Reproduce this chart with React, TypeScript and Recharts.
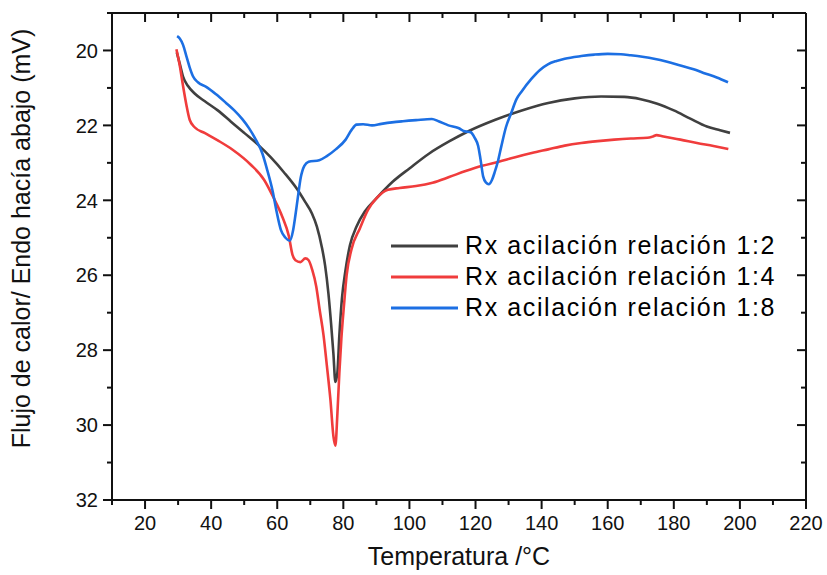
import { LineChart, Line, XAxis, YAxis, Legend } from 'recharts';

const FONT = '"Liberation Sans", Arial, sans-serif';
const INK = '#111';

const X_TICKS = [10, 20, 30, 40, 50, 60, 70, 80, 90, 100, 110, 120, 130, 140, 150, 160, 170, 180, 190, 200, 210, 220];
const Y_TICKS = [19, 20, 21, 22, 23, 24, 25, 26, 27, 28, 29, 30, 31, 32];

const SERIES_NAMES = ['Rx acilación relación 1:2', 'Rx acilación relación 1:4', 'Rx acilación relación 1:8'];
const SERIES_COLORS = ['#404040', '#f03c3c', '#1c6fe3'];

// [temperatura, flujo]
const RX_12 = [
  [29.6, 20.05], [30.5, 20.35], [31.5, 20.7], [33, 20.95], [35, 21.15], [38, 21.35], [42, 21.6], [46, 21.9],
  [50, 22.2], [54, 22.5], [58, 22.85], [62, 23.25], [66, 23.7], [68.5, 24.05], [70.5, 24.35], [72, 24.7],
  [73.5, 25.25], [74.5, 25.75], [75.5, 26.5], [76.3, 27.3], [77, 28.1], [77.6, 28.85], [78.2, 28.6], [78.8, 27.6],
  [79.6, 26.6], [80.6, 25.9], [82, 25.2], [84, 24.7], [86.5, 24.3], [90, 23.95], [95, 23.5], [100, 23.15],
  [106, 22.75], [112, 22.43], [118, 22.15], [126, 21.85], [134, 21.6], [142, 21.4], [150, 21.28], [158, 21.23],
  [165, 21.24], [170, 21.3], [175, 21.42], [180, 21.6], [185, 21.82], [190, 22.03], [194, 22.13], [197, 22.2],
];

const RX_14 = [
  [29.5, 19.97], [30.5, 20.4], [31.5, 20.95], [32.5, 21.45], [33.5, 21.85], [35, 22.05], [38, 22.2], [42, 22.4],
  [46.5, 22.65], [52, 23.05], [56, 23.45], [59, 23.95], [61.5, 24.43], [63.5, 24.95], [64.6, 25.45], [65.5, 25.6],
  [67, 25.65], [68.5, 25.55], [69.5, 25.6], [70.6, 25.86], [71.8, 26.3], [72.8, 26.9], [74, 27.6], [75, 28.4],
  [76.1, 29.33], [77, 30.3], [77.6, 30.55], [78.2, 29.7], [78.8, 28.6], [79.4, 27.7], [80.2, 26.8], [81, 26.0],
  [82.5, 25.3], [85, 24.75], [87.5, 24.25], [90, 23.95], [93.5, 23.72], [97, 23.67], [102, 23.62], [107, 23.53],
  [112, 23.38], [117, 23.22], [122, 23.08], [127, 22.97], [132, 22.85], [137, 22.74], [142, 22.64], [147, 22.54],
  [152, 22.47], [157, 22.42], [162, 22.38], [167, 22.35], [172, 22.33], [173.5, 22.3], [174.8, 22.26], [176.5, 22.29],
  [182, 22.38], [187, 22.47], [192, 22.55], [196.5, 22.63],
];

const RX_18 = [
  [29.7, 19.62], [30.5, 19.68], [31.5, 19.85], [32.5, 20.15], [33.5, 20.45], [34.5, 20.69], [36, 20.85], [38.5, 20.97],
  [41.5, 21.17], [44.5, 21.4], [47, 21.6], [49.5, 21.84], [51.5, 22.08], [53.5, 22.38], [55.5, 22.75], [57, 23.2],
  [58.6, 23.75], [59.8, 24.3], [61.1, 24.79], [62.5, 25.0], [63.8, 25.08], [64.8, 24.8], [65.5, 24.4], [66.2, 23.95],
  [67.1, 23.4], [68.2, 23.08], [69.5, 22.97], [72.7, 22.93], [75, 22.82], [77.7, 22.64], [80.7, 22.38], [82.5, 22.12],
  [84, 21.98], [86, 21.97], [88.7, 22.0], [91.5, 21.96], [94.7, 21.92], [98, 21.89], [102, 21.86], [106.8, 21.83],
  [108.8, 21.89], [111.8, 22.0], [114.8, 22.07], [116.8, 22.16], [118.5, 22.18], [119.8, 22.34], [120.8, 22.55], [121.5, 22.9],
  [122.3, 23.36], [123.2, 23.53], [124, 23.57], [125, 23.45], [125.8, 23.25], [126.8, 22.95], [127.8, 22.56], [129.2, 22.05],
  [130.8, 21.67], [132.4, 21.3], [133.9, 21.1], [136.9, 20.76], [139.5, 20.52], [141.9, 20.37], [144.5, 20.28], [147, 20.22],
  [152, 20.15], [156, 20.11], [160, 20.09], [164, 20.1], [167, 20.13], [170.5, 20.17], [174, 20.22], [178, 20.3],
  [182, 20.4], [186, 20.5], [189, 20.6], [193, 20.72], [196.4, 20.85],
];

const toRows = (pts: number[][]) => pts.map(([x, y]) => ({ x, y }));
const SERIES = [RX_12, RX_14, RX_18].map(toRows);

const isMajorX = (v: number) => v % 20 === 0;
const isMajorY = (v: number) => v % 2 === 0;

function BottomTick({ x, y, payload }: any) {
  const major = isMajorX(payload.value);
  return (
    <g>
      <line x1={x} x2={x} y1={y} y2={y + (major ? 9 : 5)} stroke={INK} strokeWidth={2} />
      {major && (
        <text x={x} y={y + 30} textAnchor="middle" fontSize={20} fontFamily={FONT} fill={INK}>
          {payload.value}
        </text>
      )}
    </g>
  );
}

function TopTick({ x, y, payload }: any) {
  const major = isMajorX(payload.value);
  return <line x1={x} x2={x} y1={y} y2={y + (major ? 9 : 5)} stroke={INK} strokeWidth={2} />;
}

function LeftTick({ x, y, payload }: any) {
  const major = isMajorY(payload.value);
  return (
    <g>
      <line x1={x} x2={x - (major ? 9 : 5)} y1={y} y2={y} stroke={INK} strokeWidth={2} />
      {major && (
        <text x={x - 14} y={y} dy="0.36em" textAnchor="end" fontSize={20} fontFamily={FONT} fill={INK}>
          {payload.value}
        </text>
      )}
    </g>
  );
}

function RightTick({ x, y, payload }: any) {
  const major = isMajorY(payload.value);
  return <line x1={x} x2={x - (major ? 9 : 5)} y1={y} y2={y} stroke={INK} strokeWidth={2} />;
}

function LegendBox() {
  return (
    <div style={{ fontFamily: FONT, fontSize: 25, letterSpacing: 1.6, color: '#000' }}>
      {SERIES_NAMES.map((name, i) => (
        <div key={name} style={{ display: 'flex', alignItems: 'center', height: 31 }}>
          <svg width={74} height={10} style={{ flex: 'none' }}>
            <line x1={0} x2={67} y1={5} y2={5} stroke={SERIES_COLORS[i]} strokeWidth={3} />
          </svg>
          <span style={{ lineHeight: '31px', whiteSpace: 'nowrap' }}>{name}</span>
        </div>
      ))}
    </div>
  );
}

export default function App() {
  return (
    <div style={{ position: 'absolute', left: 0, top: 0, width: 827, height: 575, background: '#fff' }}>
      <LineChart width={827} height={575} margin={{ top: 13, right: 21, left: 0, bottom: 0 }}>
        <XAxis
          xAxisId={0}
          type="number"
          dataKey="x"
          domain={[10, 220]}
          ticks={X_TICKS}
          interval={0}
          allowDataOverflow
          height={75}
          tickSize={0}
          tickMargin={0}
          tickLine={false}
          axisLine={{ stroke: INK, strokeWidth: 2 }}
          tick={<BottomTick />}
          label={({ viewBox }: any) => (
            <text
              x={viewBox.x + viewBox.width / 2}
              y={viewBox.y + 65}
              textAnchor="middle"
              fontSize={25}
              fontFamily={FONT}
              fill={INK}
            >
              Temperatura /°C
            </text>
          )}
        />
        <XAxis
          xAxisId="top"
          orientation="top"
          mirror
          type="number"
          dataKey="x"
          domain={[10, 220]}
          ticks={X_TICKS}
          interval={0}
          allowDataOverflow
          tickSize={0}
          tickMargin={0}
          tickLine={false}
          axisLine={{ stroke: INK, strokeWidth: 2 }}
          tick={<TopTick />}
        />
        <YAxis
          yAxisId={0}
          type="number"
          domain={[19, 32]}
          reversed
          ticks={Y_TICKS}
          interval={0}
          allowDataOverflow
          width={112}
          tickSize={0}
          tickMargin={0}
          tickLine={false}
          axisLine={{ stroke: INK, strokeWidth: 2 }}
          tick={<LeftTick />}
          label={({ viewBox }: any) => (
            <text
              transform={`translate(${viewBox.x + 30}, ${viewBox.y + viewBox.height / 2 - 18}) rotate(-90)`}
              textAnchor="middle"
              fontSize={25}
              fontFamily={FONT}
              fill={INK}
            >
              Flujo de calor/ Endo hacía abajo (mV)
            </text>
          )}
        />
        <YAxis
          yAxisId="right"
          orientation="right"
          mirror
          type="number"
          domain={[19, 32]}
          reversed
          ticks={Y_TICKS}
          interval={0}
          allowDataOverflow
          width={1}
          tickSize={0}
          tickMargin={0}
          tickLine={false}
          axisLine={{ stroke: INK, strokeWidth: 2 }}
          tick={<RightTick />}
        />
        <Legend
          layout="horizontal"
          verticalAlign="middle"
          align="center"
          content={() => <LegendBox />}
          wrapperStyle={{ position: 'absolute', left: 391, top: 230, width: 'auto' }}
        />
        {SERIES.map((data, i) => (
          <Line
            key={SERIES_NAMES[i]}
            data={data}
            dataKey="y"
            name={SERIES_NAMES[i]}
            type="monotone"
            stroke={SERIES_COLORS[i]}
            strokeWidth={2.6}
            dot={false}
            activeDot={false}
            isAnimationActive={false}
          />
        ))}
      </LineChart>
    </div>
  );
}
